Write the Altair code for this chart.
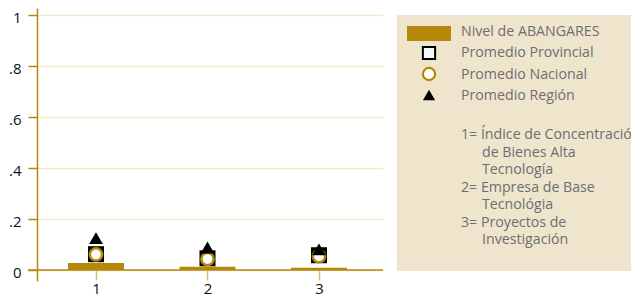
import altair as alt
import pandas as pd

categories = [1, 2, 3]
nivel = [0.027, 0.013, 0.009]
provincial = [0.062, 0.046, 0.058]
nacional = [0.061, 0.043, 0.054]
region = [0.125, 0.088, 0.081]
y_ticks = [0, 0.2, 0.4, 0.6, 0.8, 1.0]

GOLD = "#b5870b"
GRID = "#f2e9cf"
PANEL = "#efe5cd"
TXT = "#6d6e71"
FONT = "Open Sans"

df = pd.DataFrame({"cat": categories, "nivel": nivel, "prov": provincial,
                   "nac": nacional, "reg": region})

xs = alt.Scale(domain=[0.471, 3.574], nice=False, zero=False)
ys = alt.Scale(domain=[-0.0431, 1.0275], nice=False, zero=False)

base = alt.Chart(df)

label_expr = "datum.value == 0 ? '0' : (datum.value >= 1 ? '1' : replace(format(datum.value, '.1f'), '0.', '.'))"

bars = base.mark_bar(color=GOLD).transform_calculate(
    x1="datum.cat - 0.251", x2="datum.cat + 0.251"
).encode(
    x=alt.X("x1:Q", scale=xs,
            axis=alt.Axis(values=categories, title=None, domain=False, grid=False,
                          tickColor="#d9bf78", tickSize=10, tickWidth=1.5, offset=-11,
                          labelFontSize=15, labelColor="#111", labelFont=FONT,
                          labelPadding=1, format="d")),
    x2="x2:Q",
    y=alt.Y("nivel:Q", scale=ys,
            axis=alt.Axis(values=y_ticks, title=None, labelExpr=label_expr,
                          domainColor=GOLD, domainWidth=1.5, tickColor=GOLD,
                          tickSize=9, tickWidth=1.5, gridColor=GRID, gridWidth=1.5,
                          labelFontSize=15, labelColor="#111", labelFont=FONT,
                          labelPadding=7, labelOffset=2)),
    y2=alt.datum(0),
)

xaxis_line = alt.Chart(pd.DataFrame({"z": [0]})).mark_rule(color=GOLD, strokeWidth=1.5).encode(
    y=alt.Y("z:Q", scale=ys), x=alt.value(-9), x2=alt.value(346)
)

squares = base.mark_point(shape="square", filled=True, color="black", size=256, opacity=1).encode(
    x=alt.X("cat:Q", scale=xs), y=alt.Y("prov:Q", scale=ys))
circles = base.mark_point(shape="circle", fill="white", stroke=GOLD, strokeWidth=2.5,
                          size=150, opacity=1, fillOpacity=1).encode(
    x=alt.X("cat:Q", scale=xs), y=alt.Y("nac:Q", scale=ys))
tris = base.mark_point(shape="triangle-up", filled=True, color="black", size=190, opacity=1).encode(
    x=alt.X("cat:Q", scale=xs), y=alt.Y("reg:Q", scale=ys))

# legend panel (chart origin at page x=37, y=8)
one = alt.Chart(pd.DataFrame({"a": [0]}))
panel = one.mark_rect(color=PANEL).encode(x=alt.value(360), x2=alt.value(600),
                                          y=alt.value(7), y2=alt.value(263))
sw_bar = one.mark_rect(color=GOLD).encode(x=alt.value(370), x2=alt.value(414),
                                          y=alt.value(18), y2=alt.value(33))
sw_sq = one.mark_point(shape="square", fill="#f7f7f7", stroke="black", strokeWidth=2,
                       size=150, opacity=1).encode(x=alt.value(392), y=alt.value(45))
sw_ci = one.mark_point(shape="circle", fill="white", stroke=GOLD, strokeWidth=2.2,
                       size=150, opacity=1).encode(x=alt.value(392), y=alt.value(66))
sw_tr = one.mark_point(shape="triangle-up", filled=True, color="black", size=150,
                       opacity=1).encode(x=alt.value(392), y=alt.value(87))

series_labels = ["Nivel de ABANGARES", "Promedio Provincial", "Promedio Nacional", "Promedio Región"]
note_lines = ["1= Índice de Concentración", "de Bienes Alta", "Tecnología",
              "2= Empresa de Base", "Tecnológia", "3= Proyectos de", "Investigación"]

def txt(s, x, y):
    return one.mark_text(align="left", baseline="middle", font=FONT, fontSize=14.2,
                         color=TXT).encode(x=alt.value(x), y=alt.value(y), text=alt.value(s))

legend_layers = [panel, sw_bar, sw_sq, sw_ci, sw_tr]
for i, s in enumerate(series_labels):
    legend_layers.append(txt(s, 424, 24 + i * 21.3))
indent = [False, True, True, False, True, False, True]
for i, s in enumerate(note_lines):
    legend_layers.append(txt(s, 445 if indent[i] else 424, 127 + i * 17.5))

chart = alt.layer(bars, xaxis_line, squares, circles, tris, *legend_layers).properties(
    width=346, height=273,
    autosize=alt.AutoSizeParams(type="none"),
    padding={"left": 29, "top": 0, "right": 248, "bottom": 15},
).configure_view(stroke=None).configure_axis(labelFont=FONT)

chart.save("out.html", embed_options={"renderer": "svg", "actions": False})
